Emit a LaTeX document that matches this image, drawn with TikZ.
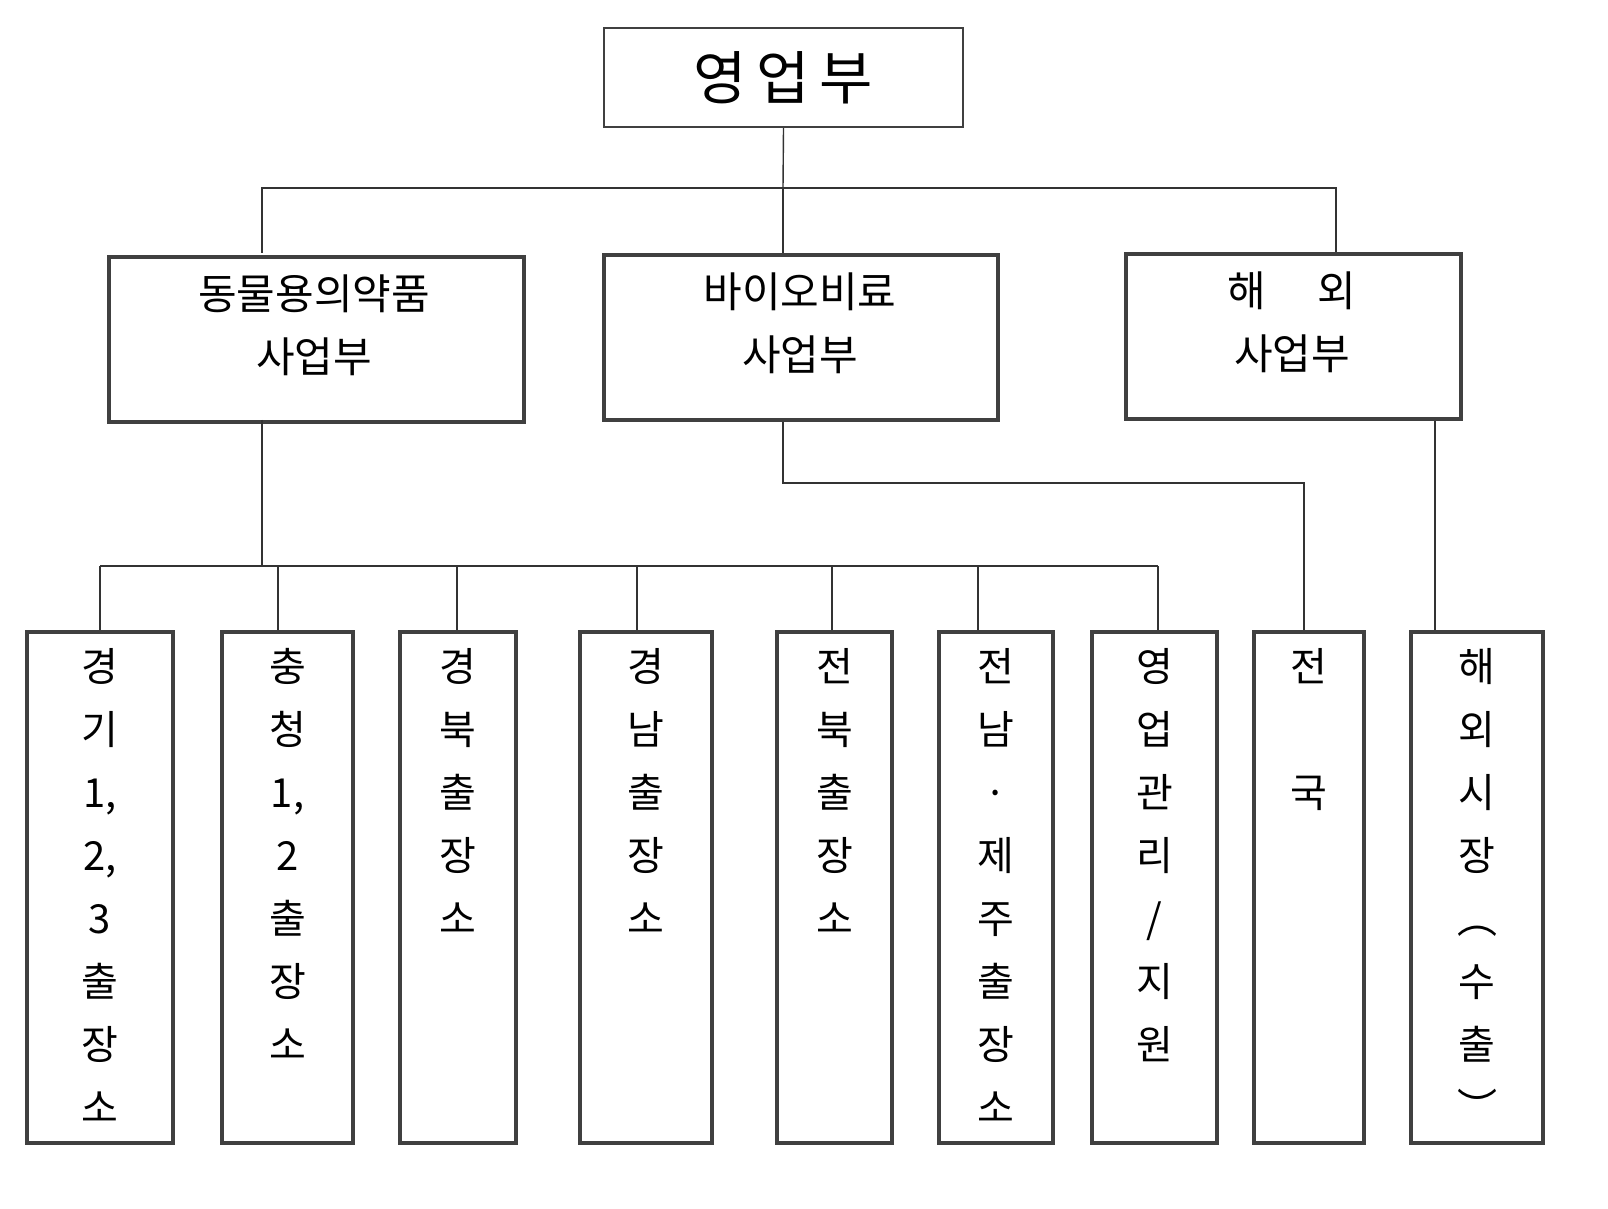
\documentclass[tikz,border=0pt]{standalone}
\usepackage{fontspec}
\setmainfont{Noto Sans CJK KR}
\begin{document}
\begin{tikzpicture}[x=0.5pt,y=-0.5pt,
  box/.style={draw=black!75,line width=2pt,inner sep=0pt,anchor=north west},
  link/.style={draw=black!80,line width=0.7pt},
  vt/.style={anchor=north,inner sep=0pt,font=\fontsize{20}{31.5}\selectfont,align=center}]

% top
\node[box,line width=1pt,minimum width=179.5pt,minimum height=49.5pt] (top) at (603,27) {};
\node[font=\fontsize{29}{30}\selectfont] at (top.center) {영\,업\,부};

% divisions
\node[box,minimum width=207.5pt,minimum height=82.5pt] (ani) at (107,255) {};
\node[box,minimum width=197pt,minimum height=82.5pt] (bio) at (602,253) {};
\node[box,minimum width=167.5pt,minimum height=82.5pt] (abr) at (1124,252) {};
\node[font=\fontsize{21}{31.5}\selectfont,align=center] at (314,325) {동물용의약품\\사업부};
\node[font=\fontsize{21}{31.5}\selectfont,align=center] at (800,323) {바이오비료\\사업부};
\node[font=\fontsize{21}{31.5}\selectfont,align=center] at (1292,322) {해\quad\ 외\\사업부};

% branches
\foreach \n/\x/\w/\t in {
  b1/25/73/{경\\기\\1,\\2,\\3\\출\\장\\소},
  b2/220/65.5/{충\\청\\1,\\2\\출\\장\\소},
  b3/398/58/{경\\북\\출\\장\\소},
  b4/578/66/{경\\남\\출\\장\\소},
  b5/775/57.5/{전\\북\\출\\장\\소},
  b6/937/57/{전\\남\\·\\제\\주\\출\\장\\소},
  b7/1090/62.5/{영\\업\\관\\리\\/\\지\\원},
  b8/1252/55/{전\\\\국},
  b9/1409/66/{해\\외\\시\\장\\︵\\수\\출\\︶}}{
  \node[box,minimum width=\w pt,minimum height=255.5pt] (\n) at (\x,630) {};
  \node[vt] at ([yshift=-9pt]\n.north) {\t};
}

% connectors
\coordinate (j0) at (783,188);
\draw[link] (top.south) -- (j0);
\draw[link] (j0) -| (bio.north -| 262,0) (j0) -| (1336,252);
\draw[link] (j0) -- (bio.north -| j0);
\draw[link] (262,420) -- (262,566);
\draw[link] (100,566) -- (1158,566);
\foreach \n/\x in {b1/100,b2/278,b3/457,b4/637,b5/832,b6/978,b7/1158}
  \draw[link] (\x,566) -- (\n.north -| \x,0);
\draw[link] (bio.south -| 783,0) -- (783,483) -| (b8.north -| 1304,0);
\draw[link] (abr.south -| 1435,0) -- (b9.north -| 1435,0);

\pgfresetboundingbox
\useasboundingbox (0,0) rectangle (1608,1209);
\end{tikzpicture}
\end{document}
